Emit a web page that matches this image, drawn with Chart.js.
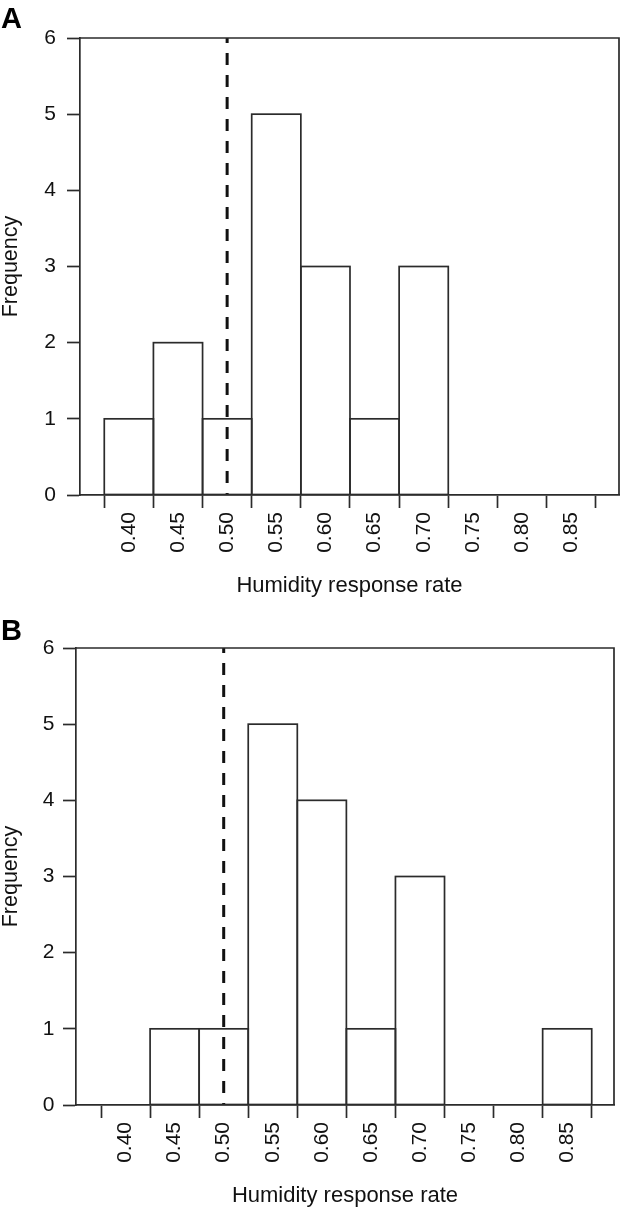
<!DOCTYPE html>
<html>
<head>
<meta charset="utf-8">
<script src="https://cdn.jsdelivr.net/npm/chart.js@4/dist/chart.umd.min.js"></script>
<style>
  html, body { margin: 0; padding: 0; background: #ffffff; }
  canvas { display: block; }
</style>
</head>
<body>
<canvas id="panelA" width="623" height="610"></canvas>
<canvas id="panelB" width="623" height="601"></canvas>
<script>
// ---- data ----
const binLabels  = ['0.40', '0.45', '0.50', '0.55', '0.60', '0.65', '0.70', '0.75', '0.80', '0.85'];
const binCenters = [0.40, 0.45, 0.50, 0.55, 0.60, 0.65, 0.70, 0.75, 0.80, 0.85];
const binWidth   = 0.05;
const countsA    = [1, 2, 1, 5, 3, 1, 3, 0, 0, 0];
const countsB    = [0, 1, 1, 5, 4, 1, 3, 0, 0, 1];
const yTicks     = [0, 1, 2, 3, 4, 5, 6];
const thresholdX = 0.5;
const xAxisTitle = 'Humidity response rate';
const yAxisTitle = 'Frequency';
const panelLetters = ['A', 'B'];

// ---- styling ----
const FONT = "'Liberation Sans', Arial, Helvetica, sans-serif";
const TEXT = '#111111';
const LINE = '#2b2b2b';
const LW = 1.7;

const outlinePlugin = {
  id: 'histOutline',
  afterDatasetsDraw(chart, args, opts) {
    const ctx = chart.ctx;
    const area = chart.chartArea;
    ctx.save();
    ctx.strokeStyle = LINE;
    ctx.lineWidth = LW;
    const meta = chart.getDatasetMeta(1);
    const ds = chart.data.datasets[1].data;
    meta.data.forEach((bar, i) => {
      if (!ds[i].y) return;
      const p = bar.getProps(['x', 'y', 'base', 'width'], true);
      ctx.strokeRect(p.x - p.width / 2, p.y, p.width, p.base - p.y);
    });
    // remaining sides of the plot box
    ctx.beginPath();
    ctx.moveTo(area.left, area.top);
    ctx.lineTo(area.right, area.top);
    ctx.lineTo(area.right, area.bottom);
    ctx.stroke();
    // panel letter
    ctx.fillStyle = '#000000';
    ctx.font = 'bold 29px ' + FONT;
    ctx.textBaseline = 'alphabetic';
    ctx.textAlign = 'left';
    ctx.fillText(opts.letter, 1, opts.letterY);
    ctx.restore();
  }
};

function makePanel(id, counts, letter, L) {
  const last = binCenters[binCenters.length - 1];
  const edges = binCenters.map(c => +(c - binWidth / 2).toFixed(4))
    .concat([+(last + binWidth / 2).toFixed(4)]);
  const yMax = yTicks[yTicks.length - 1];
  return new Chart(document.getElementById(id), {
    type: 'bar',
    data: {
      datasets: [
        {
          type: 'line',
          data: [{ x: thresholdX, y: yMax }, { x: thresholdX, y: yTicks[0] }],
          borderColor: '#111111',
          borderWidth: 3,
          borderDash: [12, 10],
          borderDashOffset: 7,
          pointRadius: 0,
          fill: false,
          xAxisID: 'x',
          yAxisID: 'y',
          order: 0
        },
        {
          type: 'bar',
          data: binCenters.map((c, i) => ({ x: c, y: counts[i] })),
          backgroundColor: 'rgba(255,255,255,0)',
          borderWidth: 0,
          barPercentage: 1,
          categoryPercentage: 1,
          xAxisID: 'x',
          yAxisID: 'y',
          order: 1
        }
      ]
    },
    options: {
      responsive: false,
      animation: false,
      devicePixelRatio: 1,
      layout: { padding: { top: L.padTop, right: L.padRight, bottom: L.padBottom, left: 0 } },
      plugins: {
        legend: { display: false },
        tooltip: { enabled: false },
        histOutline: { letter: letter, letterY: L.letterY }
      },
      scales: {
        x: {
          type: 'linear', position: 'bottom', weight: 0,
          min: L.xMin, max: L.xMax, bounds: 'data', offset: false,
          afterBuildTicks: s => { s.ticks = edges.map(v => ({ value: v })); },
          afterFit: s => { s.height = 13; },
          ticks: { display: false },
          grid: { offset: false, drawOnChartArea: false, drawTicks: true, tickLength: 13,
                  tickWidth: LW, tickColor: LINE, color: LINE },
          border: { display: true, color: LINE, width: LW }
        },
        xl: {
          type: 'linear', axis: 'x', position: 'bottom', weight: 1,
          min: L.xMin, max: L.xMax, bounds: 'data', offset: false,
          afterBuildTicks: s => { s.ticks = binCenters.map(v => ({ value: v })); },
          afterFit: s => { s.height = 89; },
          ticks: {
            display: true, autoSkip: false, minRotation: 90, maxRotation: 90, padding: 4,
            color: TEXT, font: { family: FONT, size: 21 },
            callback: (v, i) => binLabels[i]
          },
          grid: { display: false, drawTicks: false, offset: false },
          border: { display: false },
          title: { display: true, text: xAxisTitle, color: TEXT,
                   font: { family: FONT, size: 22, lineHeight: 1.05 }, padding: 0 }
        },
        y: {
          type: 'linear', position: 'left',
          min: yTicks[0], max: yMax, bounds: 'data',
          afterBuildTicks: s => { s.ticks = yTicks.map(v => ({ value: v })); },
          afterFit: s => { s.width = L.yWidth; },
          ticks: {
            padding: L.yTickPad, color: TEXT, font: { family: FONT, size: 21 },
            callback: (v, i) => String(yTicks[i])
          },
          grid: { drawOnChartArea: false, drawTicks: true, tickLength: 13,
                  tickWidth: LW, tickColor: LINE, color: LINE },
          border: { display: true, color: LINE, width: LW },
          title: { display: true, text: yAxisTitle, color: TEXT,
                   font: { family: FONT, size: 21.5, lineHeight: 1.05 }, padding: 0 }
        }
      }
    },
    plugins: [outlinePlugin]
  });
}

makePanel('panelA', countsA, panelLetters[0], {
  padTop: 38, padRight: 4, padBottom: 13, yWidth: 80, yTickPad: 11, letterY: 28,
  xMin: 0.3503, xMax: 0.8987
});
makePanel('panelB', countsB, panelLetters[1], {
  padTop: 38, padRight: 9, padBottom: 4, yWidth: 76, yTickPad: 8.5, letterY: 30,
  xMin: 0.3495, xMax: 0.8977
});
</script>
</body>
</html>
